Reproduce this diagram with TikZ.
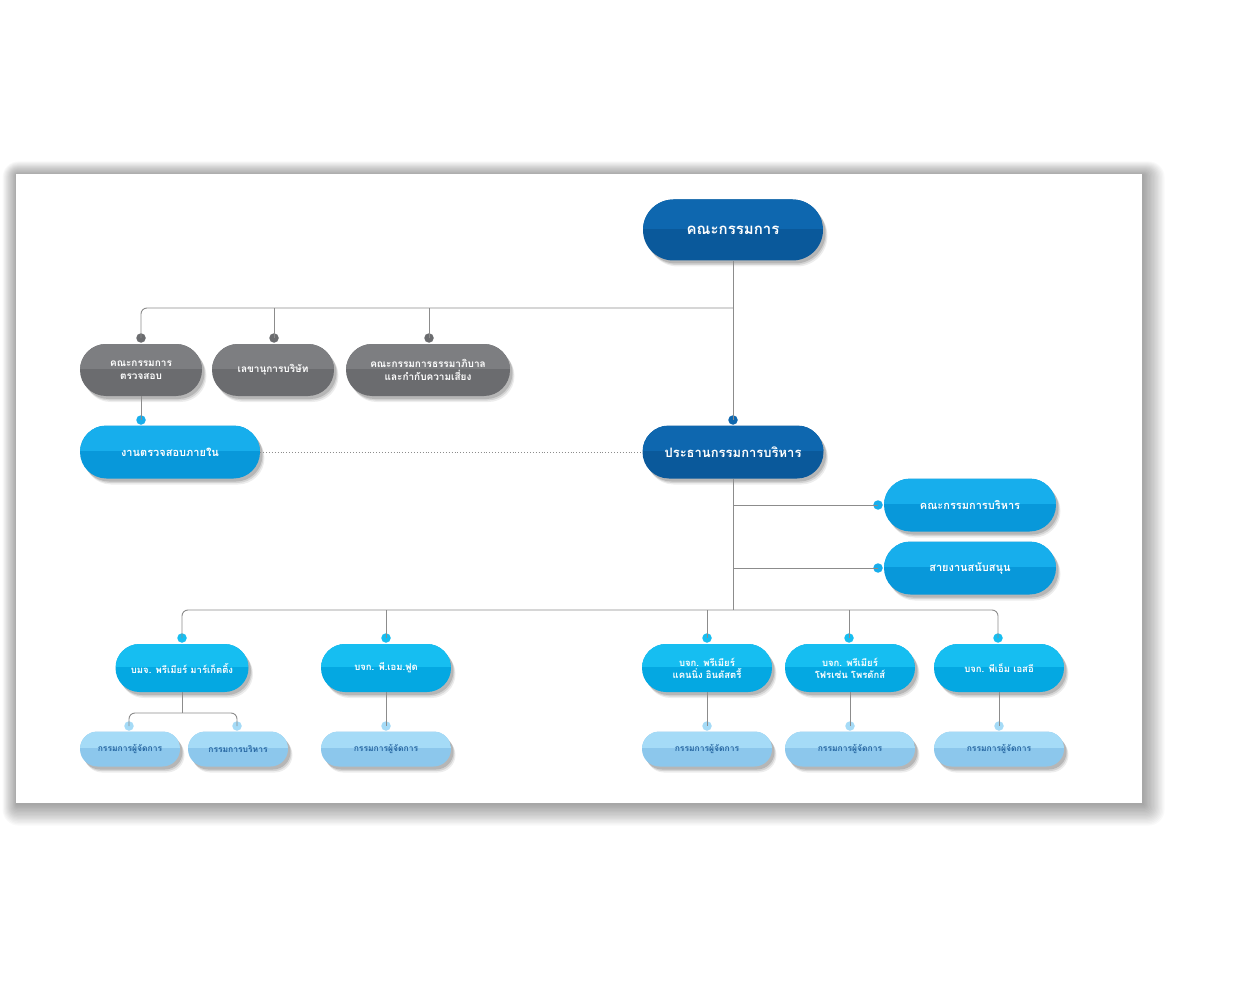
\documentclass[tikz,border=0pt]{standalone}
\usepackage{fontspec}
\newfontfamily\thai[Script=Thai]{Loma}
\usetikzlibrary{shapes.misc,shadows}
\definecolor{dbT}{HTML}{0E67AF}
\definecolor{dbB}{HTML}{0A599B}
\definecolor{bbT}{HTML}{17AEEC}
\definecolor{bbB}{HTML}{0898DA}
\definecolor{sbT}{HTML}{16BEF1}
\definecolor{sbB}{HTML}{04A8E2}
\definecolor{lbT}{HTML}{A5DBF7}
\definecolor{lbB}{HTML}{8CC7EC}
\definecolor{gT}{HTML}{7D7E81}
\definecolor{gB}{HTML}{6B6C6F}
\definecolor{lineC}{HTML}{8C8C8C}
\definecolor{ltxt}{HTML}{2767A2}
\tikzset{
  pill/.style={rounded rectangle, inner sep=0pt, align=center, text=white,
    general shadow={fill=black, opacity=0.07, shadow xshift=4.5pt, shadow yshift=-6pt},
    general shadow={fill=black, opacity=0.10, shadow xshift=3.5pt, shadow yshift=-4.5pt},
    general shadow={fill=black, opacity=0.14, shadow xshift=2.5pt, shadow yshift=-3pt}},
  twotone/.style 2 args={fill=#2, path picture={\fill[#1] (path picture bounding box.north west) rectangle ([yshift=1pt]path picture bounding box.east);}},
  darkpill/.style={pill, twotone={dbT}{dbB}},
  brightpill/.style={pill, twotone={bbT}{bbB}},
  subpill/.style={pill, twotone={sbT}{sbB}, minimum width=130pt, minimum height=48pt,
    font=\thai\bfseries\fontsize{9.5}{12}\selectfont},
  lightpill/.style={pill, twotone={lbT}{lbB}, minimum height=35pt, text=ltxt,
    font=\thai\bfseries\fontsize{8.5}{10}\selectfont},
  graypill/.style={pill, twotone={gT}{gB}, minimum height=52pt,
    font=\thai\bfseries\fontsize{10}{13}\selectfont},
  conn/.style={draw=lineC, line width=0.9pt},
  dot/.style={circle, inner sep=0pt, minimum size=9.5pt},
}
\begin{document}
\begin{tikzpicture}[x=1pt,y=-1pt]
\useasboundingbox (0,0) rectangle (1250,1000);
\fill[white] (0,0) rectangle (1250,1000);
% panel shadow
\foreach \i in {1,...,16}{
  \fill[black, opacity=0.022, rounded corners=\i pt] (17-\i*0.9, 175-\i*0.85) rectangle (1143+\i*1.35, 804+\i*1.35);
}
\fill[white] (16,174) rectangle (1142,803);

% nodes
\node[darkpill, minimum width=180pt, minimum height=61pt,
  font=\thai\bfseries\fontsize{15}{18}\selectfont] (board) at (733,230) {คณะกรรมการ};
\node[graypill, minimum width=122pt] (aud) at (141,370) {คณะกรรมการ\\ตรวจสอบ};
\node[graypill, minimum width=122pt] (sec) at (273,370) {เลขานุการบริษัท};
\node[graypill, minimum width=164pt] (gov) at (428,370) {คณะกรรมการธรรมาภิบาล\\และกำกับความเสี่ยง};
\node[brightpill, minimum width=180pt, minimum height=53pt,
  font=\thai\bfseries\fontsize{11}{13}\selectfont] (ia) at (170,452) {งานตรวจสอบภายใน};
\node[darkpill, minimum width=181pt, minimum height=53pt,
  font=\thai\bfseries\fontsize{13}{16}\selectfont] (ceo) at (733,452) {ประธานกรรมการบริหาร};
\node[brightpill, minimum width=172pt, minimum height=53pt,
  font=\thai\bfseries\fontsize{11}{13}\selectfont] (exe) at (970,505) {คณะกรรมการบริหาร};
\node[brightpill, minimum width=172pt, minimum height=53pt,
  font=\thai\bfseries\fontsize{11}{13}\selectfont] (sup) at (970,568) {สายงานสนับสนุน};

\node[subpill, minimum width=133pt] (s1) at (182,668) {บมจ. พรีเมียร์ มาร์เก็ตติ้ง};
\node[subpill] (s2) at (386,668) {บจก. พี.เอม.ฟูด};
\node[subpill] (s3) at (707,668) {บจก. พรีเมียร์\\แคนนิ่ง อินดัสตรี้};
\node[subpill] (s4) at (850,668) {บจก. พรีเมียร์\\โฟรเซ่น โพรดักส์};
\node[subpill] (s5) at (999,668) {บจก. พีเอ็ม เอสอี};

\node[lightpill, minimum width=100pt] (b1) at (130,749) {กรรมการผู้จัดการ};
\node[lightpill, minimum width=100pt] (b2) at (238,749) {กรรมการบริหาร};
\node[lightpill, minimum width=130pt] (b3) at (386,749) {กรรมการผู้จัดการ};
\node[lightpill, minimum width=130pt] (b4) at (707,749) {กรรมการผู้จัดการ};
\node[lightpill, minimum width=130pt] (b5) at (850,749) {กรรมการผู้จัดการ};
\node[lightpill, minimum width=130pt] (b6) at (999,749) {กรรมการผู้จัดการ};

% dots
\node[dot, fill=gB] (dAud) at (141,338) {};
\node[dot, fill=gB] (dSec) at (274,338) {};
\node[dot, fill=gB] (dGov) at (429,338) {};
\node[dot, fill=bbT] (dIA) at (141,420) {};
\node[dot, fill=dbT] (dCeo) at (733,420) {};
\node[dot, fill=bbT] (dExe) at (878,505) {};
\node[dot, fill=bbT] (dSup) at (878,568) {};
\node[dot, fill=sbT] (dS1) at (182,638) {};
\node[dot, fill=sbT] (dS2) at (386,638) {};
\node[dot, fill=sbT] (dS3) at (707,638) {};
\node[dot, fill=sbT] (dS4) at (849,638) {};
\node[dot, fill=sbT] (dS5) at (998,638) {};
\node[dot, fill=lbT] (dB1) at (129,726) {};
\node[dot, fill=lbT] (dB2) at (237,726) {};
\node[dot, fill=lbT] (dB3) at (386,726) {};
\node[dot, fill=lbT] (dB4) at (707,726) {};
\node[dot, fill=lbT] (dB5) at (850,726) {};
\node[dot, fill=lbT] (dB6) at (999,726) {};

\coordinate (bus1) at (733,308);
\coordinate (bus2) at (733,610);
\coordinate (j1) at (182,713);

\draw[conn] (board.south) -- (dCeo.center);
\draw[conn, rounded corners=6pt] (dAud.center) |- (bus1);
\draw[conn] (dSec.center) -- (dSec |- bus1);
\draw[conn] (dGov.center) -- (dGov |- bus1);
\draw[conn] (aud.south) -- (dIA.center);
\draw[conn, dotted] (ia.east) -- (ceo.west);
\draw[conn] (ceo.south) -- (bus2);
\draw[conn] (ceo.south |- dExe) -- (dExe.center);
\draw[conn] (ceo.south |- dSup) -- (dSup.center);
\draw[conn, rounded corners=6pt] (dS1.center) |- (dS5 |- bus2) -- (dS5.center);
\draw[conn] (dS2.center) -- (dS2 |- bus2);
\draw[conn] (dS3.center) -- (dS3 |- bus2);
\draw[conn] (dS4.center) -- (dS4 |- bus2);
\draw[conn] (s1.south) -- (j1);
\draw[conn, rounded corners=6pt] (dB1.center) |- (dB2 |- j1) -- (dB2.center);
\draw[conn] (s2.south) -- (dB3.center);
\draw[conn] (s3.south) -- (dB4.center);
\draw[conn] (s4.south) -- (dB5.center);
\draw[conn] (s5.south) -- (dB6.center);
\end{tikzpicture}
\end{document}
